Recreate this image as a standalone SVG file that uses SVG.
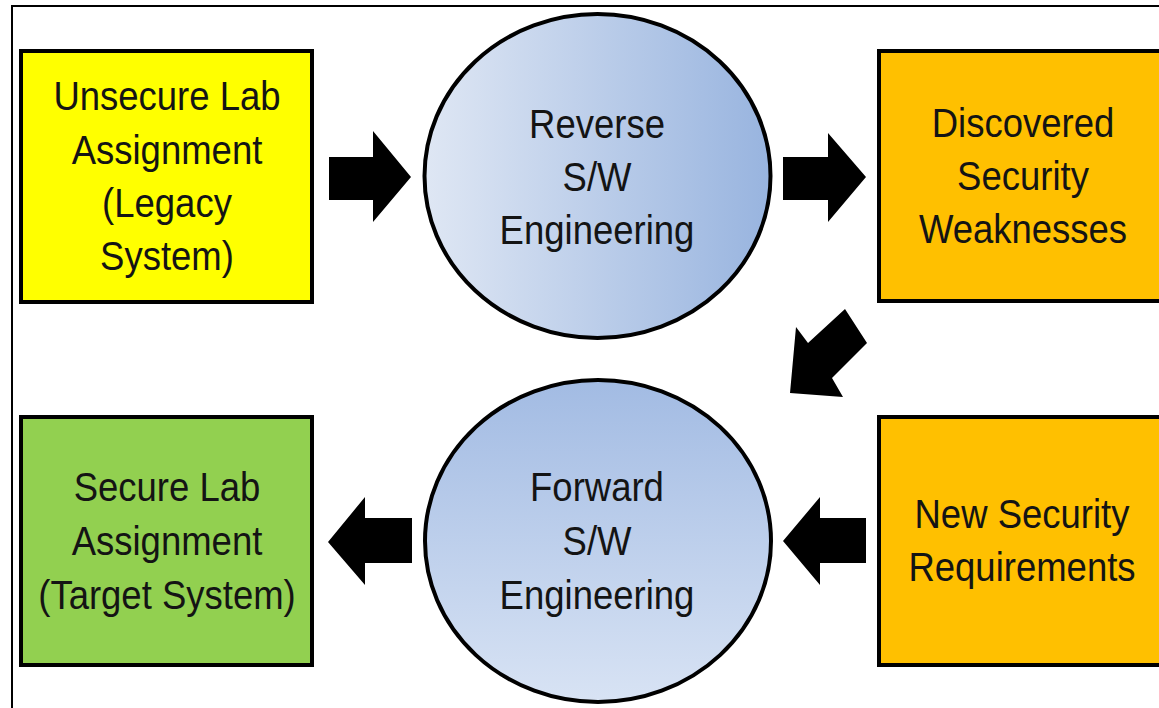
<svg xmlns="http://www.w3.org/2000/svg" width="1159" height="708" viewBox="0 0 1159 708">
  <style>
    .box { stroke: #000; stroke-width: 4; }
    .proc { stroke: #000; stroke-width: 4; }
    .lbl { font-family: "Liberation Sans", Arial, sans-serif; font-size: 36.5px; fill: #141414; text-anchor: middle; }
    .arrow { fill: #000; }
  </style>
  <defs>
    <linearGradient id="gradReverse" x1="0" y1="0" x2="1" y2="0">
      <stop offset="0" stop-color="#dfe7f4"/>
      <stop offset="1" stop-color="#98b4df"/>
    </linearGradient>
    <linearGradient id="gradForward" x1="0" y1="0" x2="0" y2="1">
      <stop offset="0" stop-color="#a2bbe3"/>
      <stop offset="1" stop-color="#d8e3f4"/>
    </linearGradient>
  </defs>

  <rect width="1159" height="708" fill="#fff"/>
  <!-- frame -->
  <path d="M12 708 V6 H1159" fill="none" stroke="#000" stroke-width="2"/>

  <!-- labels are set in a slightly tall face: each line is scaled 1.1 vertically about its baseline -->
  <g id="unsecure-lab">
    <rect class="box" x="21" y="51" width="291" height="251" fill="#ffff00"/>
    <text class="lbl" transform="translate(167 110) scale(1 1.1)">Unsecure Lab</text>
    <text class="lbl" transform="translate(167 164) scale(1 1.1)">Assignment</text>
    <text class="lbl" transform="translate(167 217) scale(1 1.1)">(Legacy</text>
    <text class="lbl" transform="translate(167 270) scale(1 1.1)">System)</text>
  </g>

  <g id="reverse-engineering">
    <ellipse class="proc" cx="597.5" cy="176" rx="173" ry="162" fill="url(#gradReverse)"/>
    <text class="lbl" transform="translate(597 138) scale(1 1.1)">Reverse</text>
    <text class="lbl" transform="translate(597 191) scale(1 1.1)">S/W</text>
    <text class="lbl" transform="translate(597 244) scale(1 1.1)">Engineering</text>
  </g>

  <g id="discovered-weaknesses">
    <rect class="box" x="879" y="51" width="300" height="250" fill="#ffc000"/>
    <text class="lbl" transform="translate(1023 137) scale(1 1.1)">Discovered</text>
    <text class="lbl" transform="translate(1023 190) scale(1 1.1)">Security</text>
    <text class="lbl" transform="translate(1023 243) scale(1 1.1)">Weaknesses</text>
  </g>

  <g id="new-requirements">
    <rect class="box" x="879" y="417" width="300" height="248" fill="#ffc000"/>
    <text class="lbl" transform="translate(1022 528) scale(1 1.1)">New Security</text>
    <text class="lbl" transform="translate(1022 581) scale(1 1.1)">Requirements</text>
  </g>

  <g id="forward-engineering">
    <ellipse class="proc" cx="598" cy="541" rx="173" ry="161" fill="url(#gradForward)"/>
    <text class="lbl" transform="translate(597 501) scale(1 1.1)">Forward</text>
    <text class="lbl" transform="translate(597 555) scale(1 1.1)">S/W</text>
    <text class="lbl" transform="translate(597 609) scale(1 1.1)">Engineering</text>
  </g>

  <g id="secure-lab">
    <rect class="box" x="21" y="417" width="291" height="248" fill="#92d050"/>
    <text class="lbl" transform="translate(167 501) scale(1 1.1)">Secure Lab</text>
    <text class="lbl" transform="translate(167 555) scale(1 1.1)">Assignment</text>
    <text class="lbl" transform="translate(167 609) scale(1 1.1)">(Target System)</text>
  </g>

  <g id="connectors">
    <polygon class="arrow" points="329,157 373,157 373,131 411,177 373,222 373,200 329,200"/>
    <polygon class="arrow" points="783,157 828,157 828,133 866,177 828,222 828,200 783,200"/>
    <polygon class="arrow" points="845,309 867,343 832,378 843,397 790,393 796,327 808,343"/>
    <polygon class="arrow" points="866,518 820,518 820,497 783,541 820,585 820,563 866,563"/>
    <polygon class="arrow" points="412,518 365,518 365,497 328,542 365,585 365,563 412,563"/>
  </g>
</svg>
